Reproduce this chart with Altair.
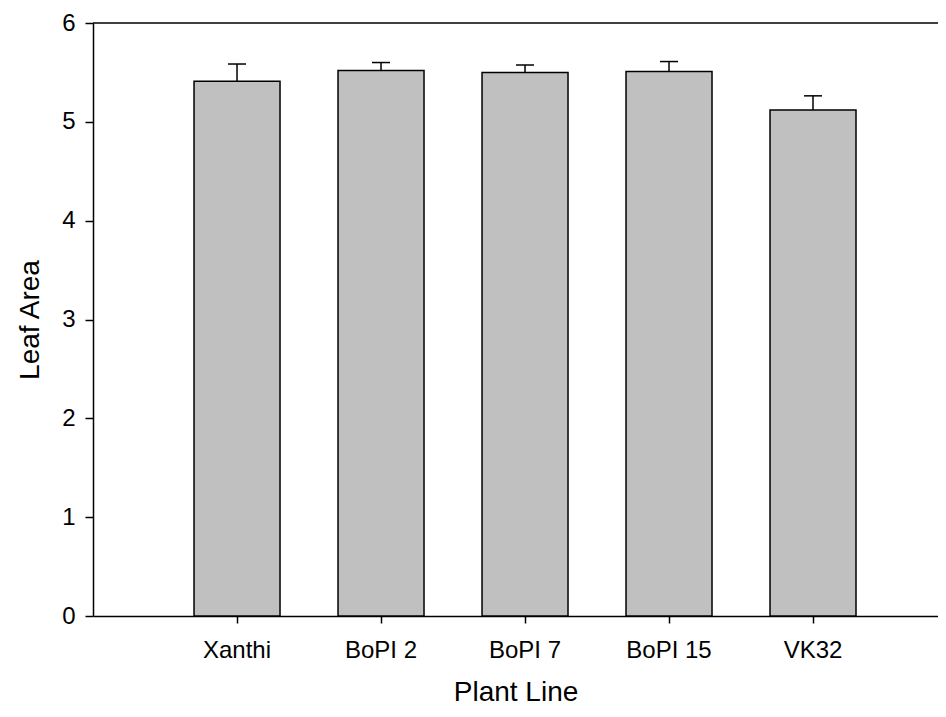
import altair as alt
import pandas as pd

categories = ["Xanthi", "BoPI 2", "BoPI 7", "BoPI 15", "VK32"]
means = [5.41, 5.52, 5.50, 5.51, 5.12]
upper = [5.585, 5.60, 5.575, 5.61, 5.263]
y_ticks = [0, 1, 2, 3, 4, 5, 6]

df = pd.DataFrame({"line": categories, "mean": means, "upper": upper})

W, H = 845, 593
FONT = "Liberation Sans"

xscale = alt.Scale(domain=categories, paddingInner=0.4028, paddingOuter=0.6355, align=0.552)
yscale = alt.Scale(domain=[0, 6], nice=False, zero=True)

xenc = alt.X("line:N", sort=categories, scale=xscale,
             axis=alt.Axis(title="Plant Line", labelAngle=0, tickSize=7, labelPadding=15,
                           titlePadding=16, labelFontSize=24, titleFontSize=28,
                           labelFont=FONT, titleFont=FONT, titleFontWeight="normal",
                           labelColor="black", titleColor="black",
                           domainColor="black", tickColor="black",
                           domainWidth=1.5, tickWidth=1.5, grid=False))
yenc = alt.Y("mean:Q", scale=yscale,
             axis=alt.Axis(title="Leaf Area", values=y_ticks, format="d", tickSize=8, labelPadding=10,
                           titlePadding=17, labelFontSize=24, titleFontSize=28,
                           labelFont=FONT, titleFont=FONT, titleFontWeight="normal",
                           labelColor="black", titleColor="black",
                           domainColor="black", tickColor="black",
                           domainWidth=1.5, tickWidth=1.5, grid=False))

base = alt.Chart(df)
bars = base.mark_bar(fill="#c0c0c0", stroke="black", strokeWidth=1.5).encode(x=xenc, y=yenc)
err = base.mark_rule(color="black", strokeWidth=1.5).encode(
    x=alt.X("line:N", sort=categories, scale=xscale),
    y=alt.Y("mean:Q", scale=yscale), y2="upper:Q")
caps = base.mark_tick(color="black", size=18, thickness=1.5, opacity=1).encode(
    x=alt.X("line:N", sort=categories, scale=xscale),
    y=alt.Y("upper:Q", scale=yscale))
top = alt.Chart(pd.DataFrame({"v": [6]})).mark_rule(color="black", strokeWidth=1.5).encode(
    y=alt.Y("v:Q", scale=yscale), x=alt.value(0), x2=alt.value(W))

chart = alt.layer(bars, err, caps, top).properties(
    width=W, height=H,
    autosize=alt.AutoSizeParams(type="none"),
    padding={"left": 85, "top": 15, "right": 0, "bottom": 92},
    background="white",
).configure_view(stroke=None)

chart.save("out.html", embed_options={"renderer": "svg", "actions": False})
